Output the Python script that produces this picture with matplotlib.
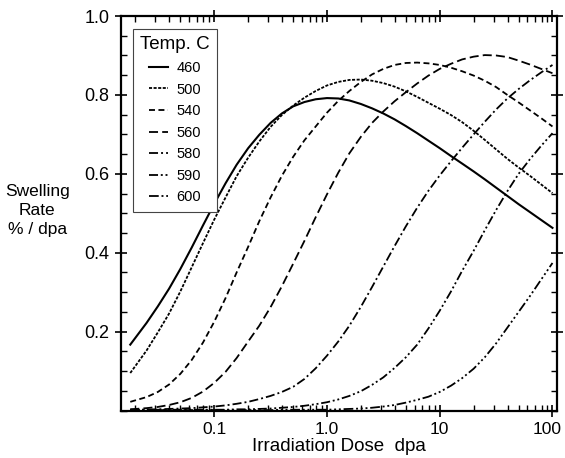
import matplotlib
matplotlib.use('Agg')
import matplotlib.pyplot as plt
from matplotlib.ticker import FixedLocator, MultipleLocator, LogLocator, NullFormatter
from matplotlib.transforms import ScaledTranslation

plt.rcParams['font.family'] = ['Liberation Sans', 'DejaVu Sans']
plt.rcParams['lines.scale_dashes'] = False

# dose (dpa)
dose = [0.018, 0.0251, 0.0316, 0.0398, 0.0501, 0.0631, 0.0794, 0.1, 0.126, 0.158,
        0.2, 0.251, 0.316, 0.398, 0.501, 0.631, 0.794, 1.0, 1.26, 1.58,
        2.0, 2.51, 3.16, 3.98, 5.01, 6.31, 7.94, 10, 12.6, 15.8,
        20, 25.1, 31.6, 39.8, 50.1, 63.1, 79.4, 100]

# swelling rate (%/dpa)
rate_460 = [0.167, 0.222, 0.264, 0.309, 0.359, 0.413, 0.469, 0.524, 0.576, 0.623,
            0.665, 0.699, 0.729, 0.753, 0.771, 0.782, 0.789, 0.792, 0.791, 0.786,
            0.777, 0.766, 0.753, 0.738, 0.721, 0.703, 0.684, 0.665, 0.645, 0.626,
            0.606, 0.586, 0.565, 0.544, 0.523, 0.503, 0.483, 0.463]
rate_500 = [0.095, 0.152, 0.198, 0.246, 0.302, 0.363, 0.424, 0.484, 0.54, 0.594,
            0.641, 0.682, 0.719, 0.749, 0.773, 0.793, 0.81, 0.824, 0.833, 0.838,
            0.839, 0.836, 0.83, 0.821, 0.809, 0.795, 0.78, 0.765, 0.749, 0.731,
            0.709, 0.686, 0.662, 0.638, 0.616, 0.595, 0.573, 0.551]
rate_540 = [0.022, 0.034, 0.047, 0.066, 0.093, 0.128, 0.172, 0.225, 0.285, 0.35,
            0.415, 0.48, 0.54, 0.595, 0.643, 0.685, 0.72, 0.755, 0.785, 0.81,
            0.833, 0.852, 0.866, 0.876, 0.881, 0.882, 0.88, 0.876, 0.869, 0.86,
            0.849, 0.836, 0.82, 0.8, 0.781, 0.761, 0.741, 0.72]
rate_560 = [0.003, 0.006, 0.009, 0.014, 0.021, 0.032, 0.048, 0.07, 0.098, 0.133,
            0.175, 0.215, 0.262, 0.315, 0.372, 0.43, 0.49, 0.548, 0.603, 0.652,
            0.694, 0.729, 0.758, 0.784, 0.807, 0.829, 0.849, 0.866, 0.879, 0.89,
            0.897, 0.901, 0.9, 0.896, 0.887, 0.877, 0.866, 0.855]
rate_580 = [0.002, 0.002, 0.003, 0.004, 0.005, 0.006, 0.008, 0.01, 0.013, 0.017,
            0.022, 0.029, 0.037, 0.047, 0.06, 0.08, 0.107, 0.139, 0.175, 0.215,
            0.263, 0.313, 0.365, 0.417, 0.467, 0.514, 0.557, 0.596, 0.632, 0.666,
            0.7, 0.732, 0.763, 0.791, 0.815, 0.837, 0.857, 0.876]
rate_590 = [0.002, 0.002, 0.002, 0.002, 0.002, 0.002, 0.002, 0.002, 0.002, 0.003,
            0.003, 0.004, 0.005, 0.007, 0.009, 0.012, 0.016, 0.021, 0.028, 0.037,
            0.049, 0.065, 0.084, 0.108, 0.135, 0.167, 0.208, 0.253, 0.302, 0.354,
            0.405, 0.457, 0.508, 0.556, 0.6, 0.637, 0.671, 0.703]
rate_600 = [0.001, 0.001, 0.001, 0.001, 0.001, 0.001, 0.001, 0.001, 0.001, 0.001,
            0.001, 0.001, 0.001, 0.002, 0.002, 0.002, 0.002, 0.002, 0.003, 0.004,
            0.005, 0.007, 0.01, 0.014, 0.02, 0.027, 0.035, 0.047, 0.063, 0.082,
            0.106, 0.135, 0.17, 0.21, 0.25, 0.29, 0.332, 0.374]

temps = ['460', '500', '540', '560', '580', '590', '600']

series = [rate_460, rate_500, rate_540, rate_560, rate_580, rate_590, rate_600]
styles = ['-', (0, (2.2, 1.1)), (0, (4.3, 2.5)), (0, (6.5, 3.0)),
          (0, (6.5, 2.2, 1.4, 2.2)), (0, (6.5, 2.0, 1.4, 2.0, 1.4, 2.0)),
          (0, (7.0, 2.0, 1.4, 2.0, 1.4, 2.0, 1.4, 2.0))]
widths = [1.5, 1.3, 1.3, 1.3, 1.3, 1.3, 1.3]

fig = plt.figure(figsize=(5.65, 4.58), dpi=100)
ax = fig.add_axes([0.2136, 0.1037, 0.7717, 0.8613])

for t, r, ls, lw in zip(temps, series, styles, widths):
    ax.plot(dose, r, color='black', linestyle=ls, linewidth=lw, label=t)

ax.set_xscale('log')
ax.set_xlim(0.0148, 109)
ax.set_ylim(0, 1.0)

ax.xaxis.set_major_locator(FixedLocator([0.1, 1.0, 10, 100]))
ax.set_xticklabels(['0.1', '1.0', '10', '100'])
ax.xaxis.set_minor_locator(LogLocator(base=10, subs=range(2, 10)))
ax.xaxis.set_minor_formatter(NullFormatter())
ax.yaxis.set_major_locator(FixedLocator([0.2, 0.4, 0.6, 0.8, 1.0]))
ax.set_yticklabels(['0.2', '0.4', '0.6', '0.8', '1.0'])
ax.yaxis.set_minor_locator(MultipleLocator(0.05))

ax.tick_params(which='major', direction='inout', length=9, width=1.2,
               labelsize=13, top=True, right=True)
ax.tick_params(axis='x', which='major', labelsize=12.5)
ax.tick_params(which='minor', direction='in', length=4, width=1.0,
               top=True, right=True)
for s in ax.spines.values():
    s.set_linewidth(1.6)

# keep the "100" label inside the picture
last = ax.get_xticklabels()[-1]
last.set_transform(last.get_transform() + ScaledTranslation(-4 / 72, 0, fig.dpi_scale_trans))

ax.set_xlabel('Irradiation Dose  dpa', fontsize=13.5, labelpad=1)
fig.text(0.066, 0.54, 'Swelling\nRate\n% / dpa', ha='center', va='center',
         fontsize=12.5, linespacing=1.35)

leg = ax.legend(title='Temp. C', loc='upper left', bbox_to_anchor=(0.028, 0.967),
                borderaxespad=0, fontsize=10.5, title_fontsize=13.5, handlelength=1.3,
                handletextpad=0.6, labelspacing=0.52, borderpad=0.5,
                fancybox=False, framealpha=1, edgecolor='#444444')
leg.get_frame().set_linewidth(0.8)

plt.savefig('out.png', dpi=100)
